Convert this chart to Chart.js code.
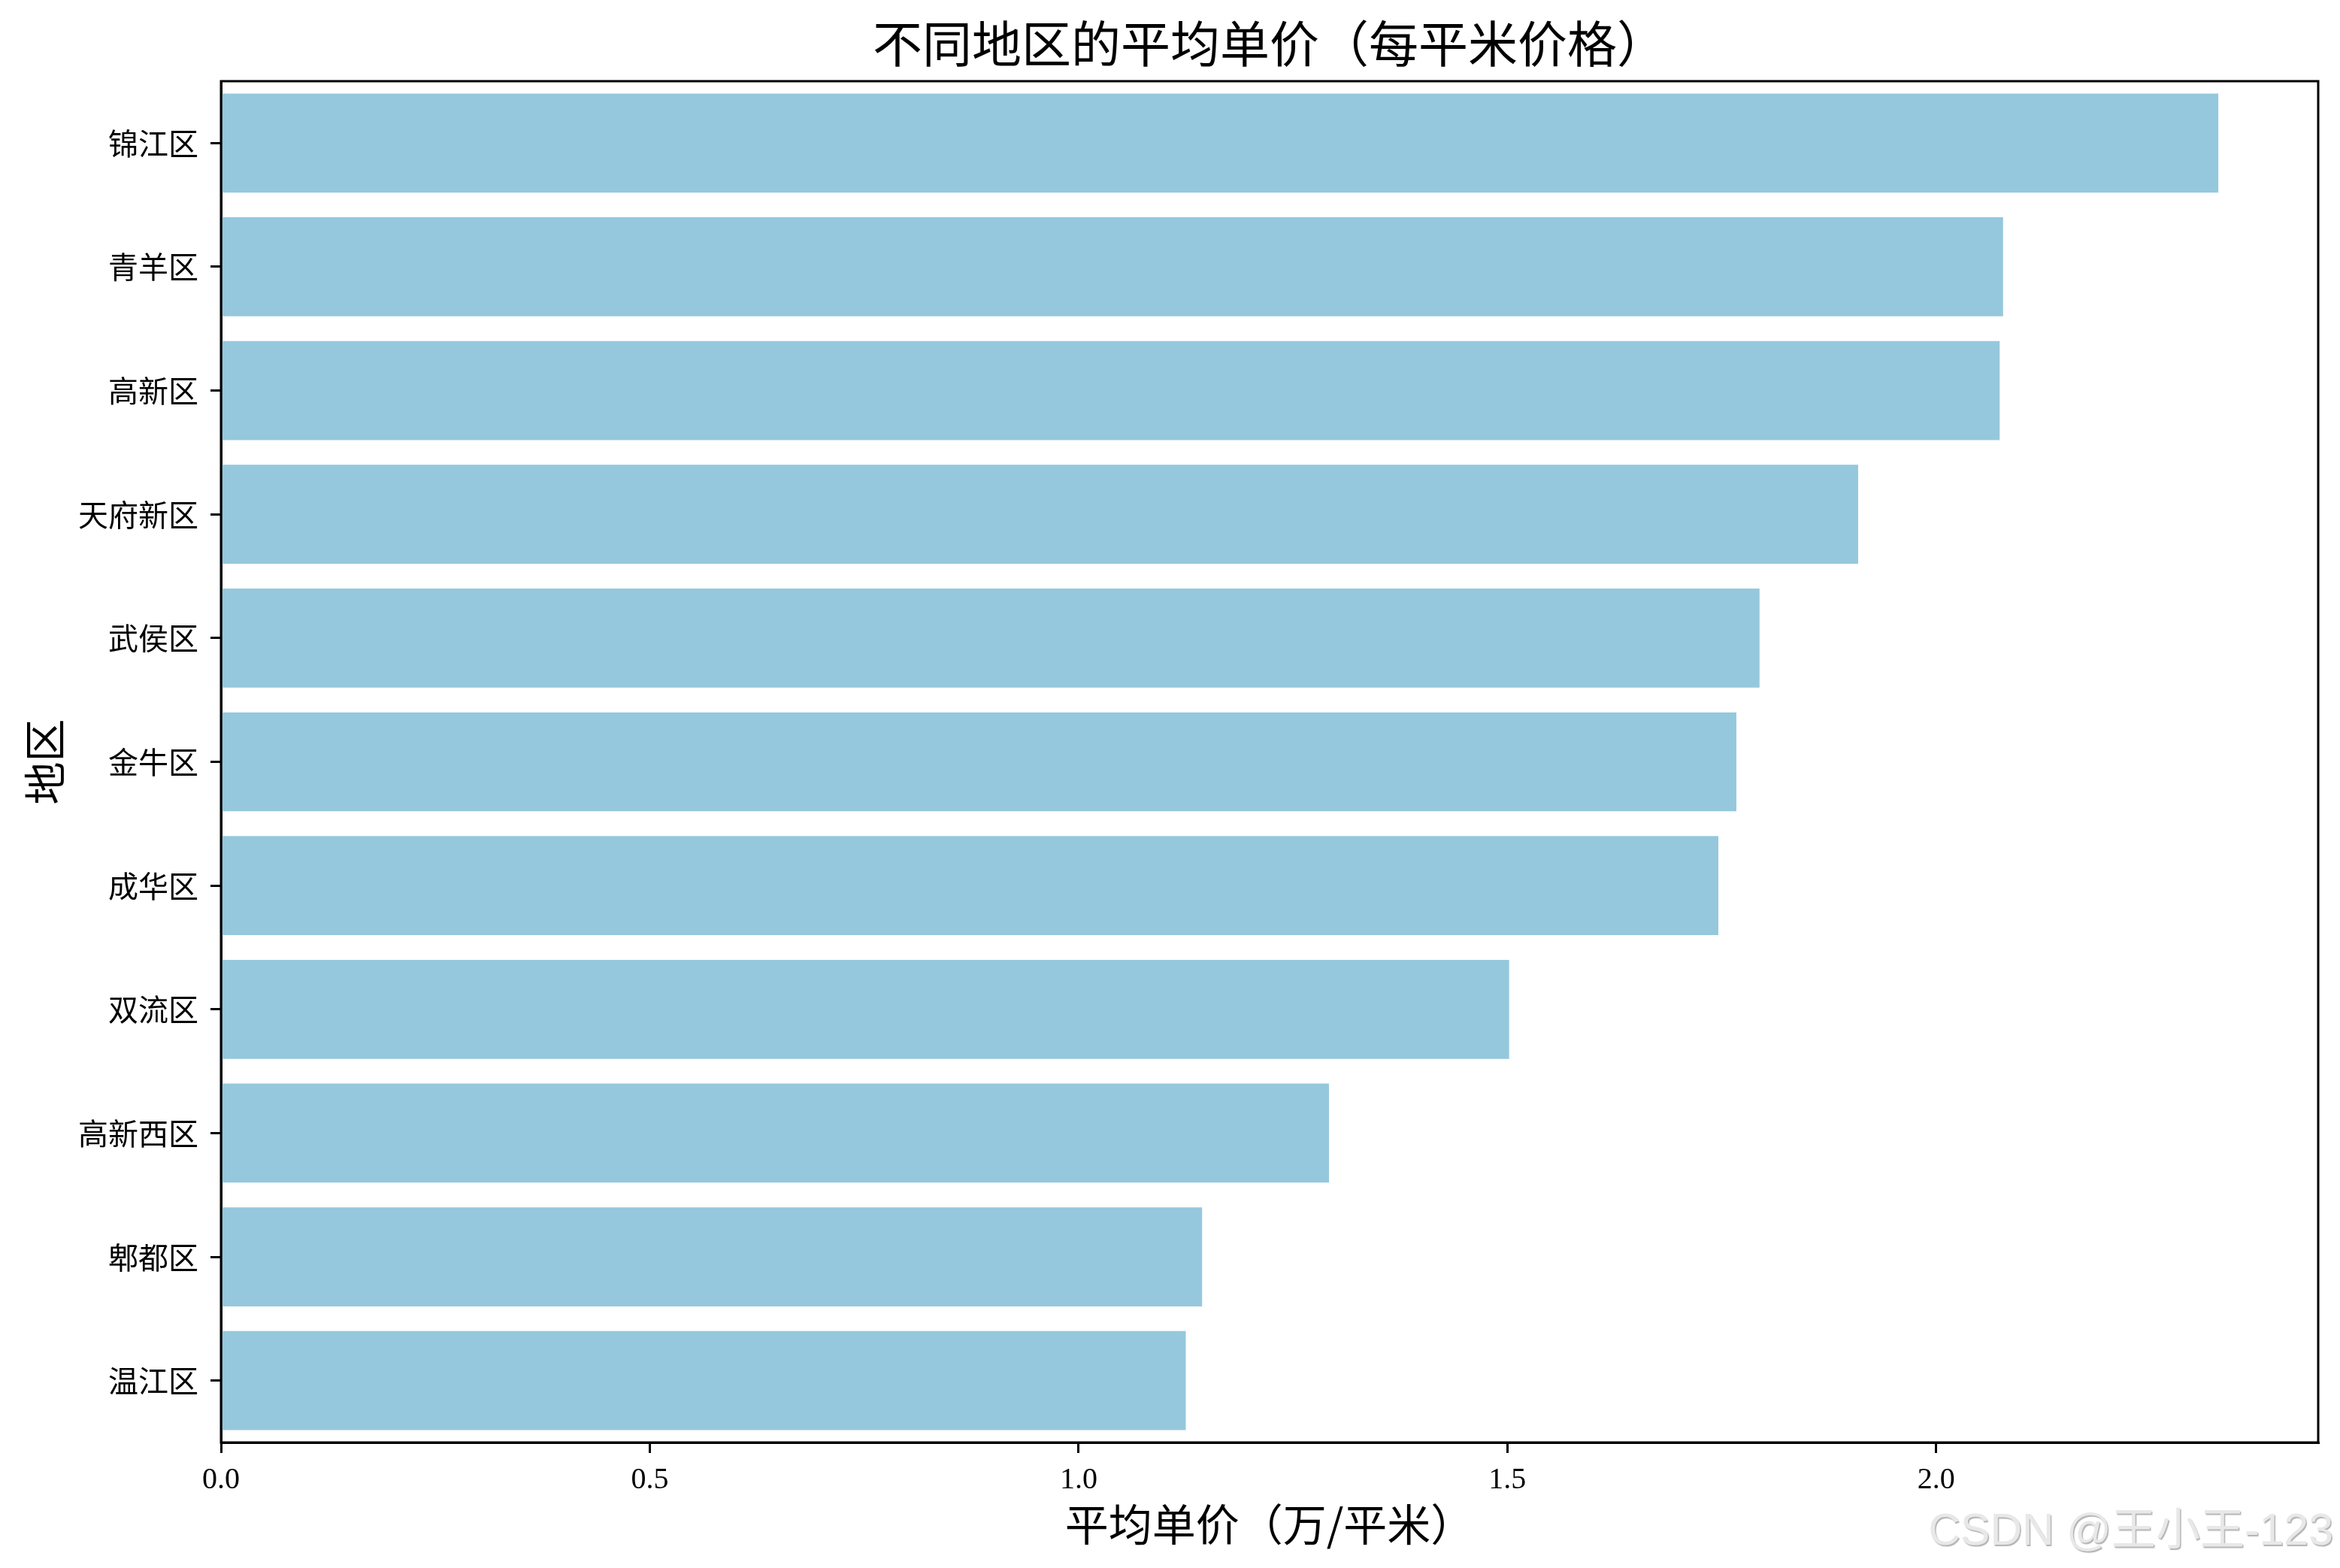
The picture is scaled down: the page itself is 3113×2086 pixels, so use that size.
<!DOCTYPE html>
<html>
<head>
<meta charset="utf-8">
<style>
  html, body { margin: 0; padding: 0; background: #ffffff; }
  #wrap { width: 3113px; height: 2086px; }
  canvas { display: block; }
</style>
<script src="https://cdn.jsdelivr.net/npm/chart.js@4.4.1/dist/chart.umd.min.js"></script>
</head>
<body>
<div id="wrap"><canvas id="c" width="3113" height="2086" style="width:3113px;height:2086px"></canvas></div>
<script>
const districts = ['锦江区', '青羊区', '高新区', '天府新区', '武侯区', '金牛区', '成华区', '双流区', '高新西区', '郫都区', '温江区'];
const avgPrice = [2.329, 2.078, 2.074, 1.909, 1.794, 1.767, 1.746, 1.502, 1.292, 1.144, 1.125];
const xTickStep = 0.5;
const titleText = '不同地区的平均单价（每平米价格）';
const xTitleText = '平均单价（万/平米）';
const yTitleText = '地区';
const watermarkText = 'CSDN @王小王-123';

const FAMILY = '"Liberation Serif", "Noto Sans CJK SC", serif';
const CJK_FAMILY = '"Noto Sans CJK SC", "Liberation Serif", sans-serif';
const xMax = Math.max(...avgPrice) * 1.05;

const framePlugin = {
  id: 'frame',
  afterDraw(chart) {
    const {ctx, chartArea: a} = chart;
    ctx.save();
    ctx.strokeStyle = '#000';
    ctx.lineWidth = 3;
    ctx.strokeRect(a.left, a.top, a.right - a.left, a.bottom - a.top);
    ctx.restore();
  }
};

const watermarkPlugin = {
  id: 'watermark',
  afterDraw(chart) {
    const ctx = chart.ctx;
    ctx.save();
    ctx.font = '59px "Liberation Sans", "Noto Sans CJK SC", sans-serif';
    ctx.textAlign = 'right';
    ctx.textBaseline = 'alphabetic';
    ctx.shadowColor = 'rgba(0,0,0,0.3)';
    ctx.shadowOffsetX = 1.5;
    ctx.shadowOffsetY = 1.5;
    ctx.shadowBlur = 1;
    ctx.fillStyle = '#e8e8e8';
    ctx.fillText(watermarkText, 3104, 2055);
    ctx.restore();
  }
};

new Chart(document.getElementById('c'), {
  type: 'bar',
  data: {
    labels: districts,
    datasets: [{
      data: avgPrice,
      backgroundColor: '#95C8DD',
      borderWidth: 0,
      barPercentage: 0.8,
      categoryPercentage: 1.0
    }]
  },
  options: {
    indexAxis: 'y',
    responsive: false,
    maintainAspectRatio: false,
    devicePixelRatio: 1,
    animation: false,
    layout: { padding: { left: 0, right: 29, top: 0, bottom: 0 } },
    plugins: {
      legend: { display: false },
      tooltip: { enabled: false },
      title: {
        display: true,
        text: titleText,
        fullSize: false,
        color: '#000',
        font: { size: 66, family: CJK_FAMILY, weight: 'normal', lineHeight: 1.2 },
        padding: { top: 18, bottom: 10.8 }
      }
    },
    scales: {
      x: {
        type: 'linear',
        position: 'bottom',
        min: 0,
        max: xMax,
        ticks: {
          stepSize: xTickStep,
          includeBounds: false,
          color: '#000',
          font: { size: 40, family: FAMILY },
          padding: 12,
          maxRotation: 0,
          autoSkip: false,
          callback: v => Number(v).toFixed(1)
        },
        grid: {
          display: true,
          drawOnChartArea: false,
          drawTicks: true,
          tickLength: 14,
          tickColor: '#000',
          tickWidth: 3,
          color: '#000',
          lineWidth: 3
        },
        border: { display: true, color: '#000', width: 3 },
        title: {
          display: true,
          text: xTitleText,
          color: '#000',
          font: { size: 58, family: CJK_FAMILY, lineHeight: 1.2 },
          padding: { top: 0, bottom: 23 }
        },
        afterFit: s => { s.height = 167; }
      },
      y: {
        type: 'category',
        position: 'left',
        offset: true,
        ticks: {
          color: '#000',
          font: { size: 40, family: FAMILY },
          padding: 16,
          labelOffset: 5,
          autoSkip: false
        },
        grid: {
          display: true,
          drawOnChartArea: false,
          drawTicks: true,
          offset: false,
          tickLength: 14,
          tickColor: '#000',
          tickWidth: 3,
          color: '#000',
          lineWidth: 3
        },
        border: { display: true, color: '#000', width: 3 },
        title: {
          display: true,
          text: yTitleText,
          color: '#000',
          font: { size: 57, family: CJK_FAMILY, lineHeight: 1.2 },
          padding: { top: 25, bottom: 0 }
        },
        afterFit: s => { s.width = 294; }
      }
    }
  },
  plugins: [framePlugin, watermarkPlugin]
});
</script>
</body>
</html>
